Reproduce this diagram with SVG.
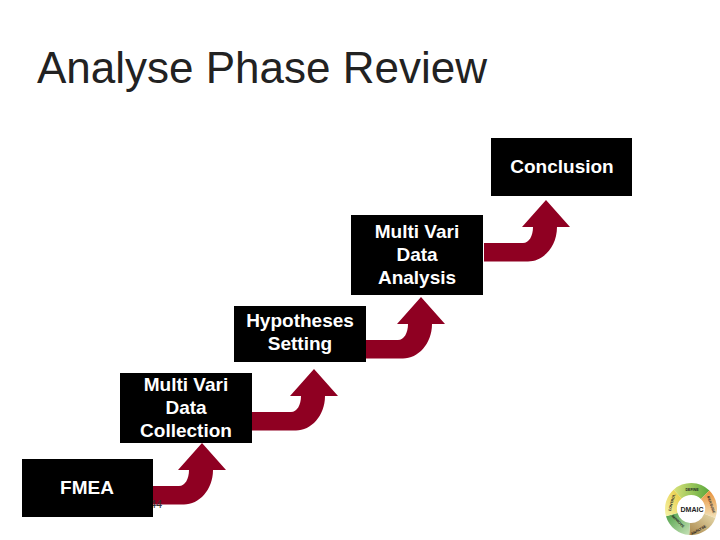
<svg xmlns="http://www.w3.org/2000/svg" width="720" height="540" viewBox="0 0 720 540">
<style>
.t{font-family:"Liberation Sans",Arial,sans-serif}
.box{fill:#000}
.lbl{font-size:19px;font-weight:bold;fill:#fff;text-anchor:middle}
.arrow{fill:#8f0022}
.seg{stroke:none}
.tiny{font-size:3.6px;font-weight:bold;fill:#222;text-anchor:middle}
</style>
<defs>
<path id="up" d="M-62 43H-23C-17 43 -13 36 -13 27H-24L0 0L24 27H11C11 47 -3 61.500 -18 61.500H-62Z"/>
<linearGradient id="g1" x1="0" y1="0" x2="1" y2="0"><stop offset="0" stop-color="#d9e27a"/><stop offset="1" stop-color="#5aa83c"/></linearGradient>
<linearGradient id="g2" x1="0" y1="0" x2="0" y2="1"><stop offset="0" stop-color="#e8913a"/><stop offset="1" stop-color="#f3e2b8"/></linearGradient>
<linearGradient id="g3" x1="1" y1="0" x2="0" y2="1"><stop offset="0" stop-color="#e9dcae"/><stop offset="1" stop-color="#a8864a"/></linearGradient>
<linearGradient id="g4" x1="0" y1="0" x2="1" y2="1"><stop offset="0" stop-color="#4c9f45"/><stop offset="1" stop-color="#c7e2b8"/></linearGradient>
<linearGradient id="g5" x1="0" y1="1" x2="1" y2="0"><stop offset="0" stop-color="#f5f3a8"/><stop offset="1" stop-color="#e6c93c"/></linearGradient>
</defs>
<text class="t" x="37" y="83" font-size="44" fill="#222">Analyse Phase Review</text>
<g id="connectors" class="arrow">
<use href="#up" x="546" y="200"/>
<use href="#up" x="421" y="297"/>
<use href="#up" x="314" y="369"/>
<use href="#up" x="202" y="443"/>
</g>
<text class="t" x="150" y="508" font-size="11" fill="#333">44</text>
<g id="conclusion"><rect class="box" x="491" y="138" width="141" height="58"/><text class="t lbl" x="562" y="173">Conclusion</text></g>
<g id="analysis"><rect class="box" x="351" y="215" width="132" height="80"/><text class="t lbl" x="417" y="238">Multi Vari</text><text class="t lbl" x="417" y="261">Data</text><text class="t lbl" x="417" y="284">Analysis</text></g>
<g id="hypotheses"><rect class="box" x="234" y="306" width="132" height="56"/><text class="t lbl" x="300" y="327">Hypotheses</text><text class="t lbl" x="300" y="350">Setting</text></g>
<g id="collection"><rect class="box" x="120" y="373" width="132" height="70"/><text class="t lbl" x="186" y="391">Multi Vari</text><text class="t lbl" x="186" y="414">Data</text><text class="t lbl" x="186" y="437">Collection</text></g>
<g id="fmea"><rect class="box" x="22" y="459" width="131" height="58"/><text class="t lbl" x="87" y="494">FMEA</text></g>
<g id="dmaic-logo">
<path class="seg" fill="url(#g1)" d="M673.600 489.700A26 26 0 0 1 709.400 490.600L700.900 499.100A14 14 0 0 0 681.600 498.600Z"/>
<path class="seg" fill="url(#g2)" d="M709.400 490.600A26 26 0 0 1 715.400 517.900L704.200 513.800A14 14 0 0 0 700.900 499.100Z"/>
<path class="seg" fill="url(#g3)" d="M715.400 517.900A26 26 0 0 1 689.200 535L690 523A14 14 0 0 0 704.200 513.800Z"/>
<path class="seg" fill="url(#g4)" d="M689.200 535A26 26 0 0 1 666 516.200L677.500 512.900A14 14 0 0 0 690 523Z"/>
<path class="seg" fill="url(#g5)" d="M666 516.200A26 26 0 0 1 673.600 489.700L681.600 498.600A14 14 0 0 0 677.500 512.900Z"/>
<text class="t" x="692" y="512" font-size="7" font-weight="bold" fill="#222" text-anchor="middle">DMAIC</text>
<text class="t tiny" x="692" y="491">DEFINE</text>
<text class="t tiny" transform="translate(710 505) rotate(70)">MEASURE</text>
<text class="t tiny" transform="translate(699 531) rotate(-30)">ANALYSE</text>
<text class="t tiny" transform="translate(677 522) rotate(45)">IMPROVE</text>
<text class="t tiny" transform="translate(673 503) rotate(-75)">CONTROL</text>
</g>
</svg>
